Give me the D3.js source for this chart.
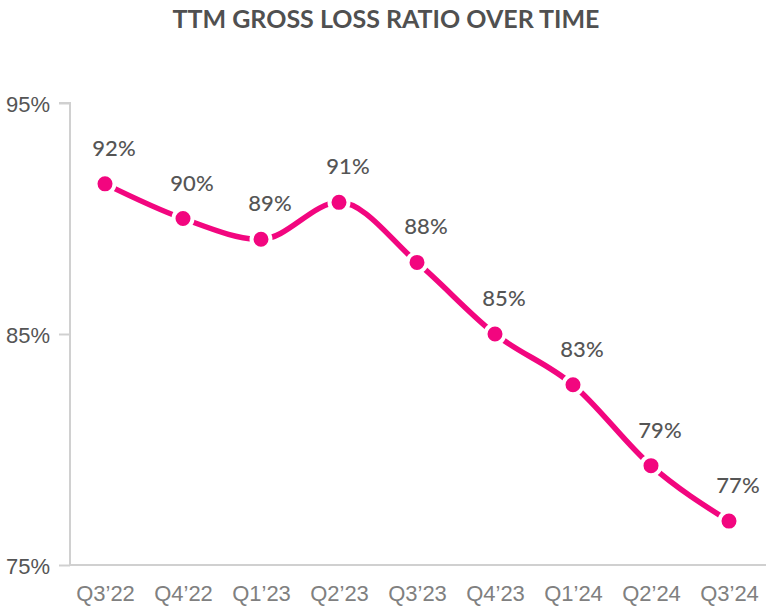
<!DOCTYPE html>
<html>
<head>
<meta charset="utf-8">
<script src="https://cdn.jsdelivr.net/npm/d3@7"></script>
<style>
  body { margin: 0; background: #fff; }
  svg { display: block; font-family: Lato, "Open Sans", sans-serif; }
</style>
</head>
<body>
<div id="chart"></div>
<script>
const quarters = ["Q3\u201922", "Q4\u201922", "Q1\u201923", "Q2\u201923", "Q3\u201923", "Q4\u201923", "Q1\u201924", "Q2\u201924", "Q3\u201924"];
const ratios = [91.5, 90.0, 89.1, 90.7, 88.1, 85.0, 82.8, 79.3, 76.9];
const labels = ["92%", "90%", "89%", "91%", "88%", "85%", "83%", "79%", "77%"];
const yTicks = [75, 85, 95];

const W = 766, H = 609;
const PINK = "#f2067f";

const x = d3.scalePoint().domain(quarters).range([105, 729]);
const y = d3.scaleLinear().domain([75, 95]).range([565, 103]);

const svg = d3.select("#chart").append("svg")
    .attr("width", W)
    .attr("height", H);

// title
svg.append("text")
    .attr("x", 386)
    .attr("y", 28)
    .attr("text-anchor", "middle")
    .style("font-size", "25px")
    .style("font-weight", "bold")
    .style("fill", "#505050")
    .text("TTM GROSS LOSS RATIO OVER TIME");

// y axis
const yAxis = svg.append("g")
    .attr("transform", "translate(70,0)")
    .call(d3.axisLeft(y).tickValues(yTicks).tickSize(11).tickPadding(9)
      .tickFormat(d => d + "%"));
yAxis.select(".domain").attr("stroke", "#d0d0d0").attr("stroke-width", 2)
    .attr("d", "M-11," + y(95) + "H0V" + y(75));
yAxis.selectAll(".tick line").attr("stroke", "#d0d0d0").attr("stroke-width", 2);
yAxis.selectAll(".tick text")
    .style("font-size", "22px")
    .style("font-weight", 500)
    .style("fill", "#555")
    .attr("dy", "0.4em");

// x axis
const xAxis = svg.append("g")
    .attr("transform", "translate(0," + y(75) + ")")
    .call(d3.axisBottom(x).tickSize(0).tickPadding(20));
xAxis.select(".domain").attr("stroke", "#d0d0d0").attr("stroke-width", 2)
    .attr("d", "M70,0H" + W);
xAxis.selectAll(".tick text")
    .style("font-size", "22px")
    .style("font-weight", 500)
    .style("fill", "#808080");

const data = quarters.map((q, i) => ({q: q, v: ratios[i], label: labels[i]}));

// line
const line = d3.line()
    .x(d => x(d.q))
    .y(d => y(d.v))
    .curve(d3.curveMonotoneX);

svg.append("path")
    .datum(data)
    .attr("d", line)
    .attr("fill", "none")
    .attr("stroke", PINK)
    .attr("stroke-width", 5.5);

// markers
svg.selectAll("circle.pt")
    .data(data)
    .join("circle")
    .attr("class", "pt")
    .attr("cx", d => x(d.q))
    .attr("cy", d => y(d.v))
    .attr("r", 9.5)
    .attr("fill", PINK)
    .attr("stroke", "#fff")
    .attr("stroke-width", 4);

// value labels
svg.selectAll("text.val")
    .data(data)
    .join("text")
    .attr("class", "val")
    .attr("x", d => x(d.q) + 9)
    .attr("y", d => y(d.v) - 28)
    .attr("text-anchor", "middle")
    .style("font-size", "22px")
    .style("font-weight", 500)
    .style("fill", "#555")
    .text(d => d.label);
</script>
</body>
</html>
